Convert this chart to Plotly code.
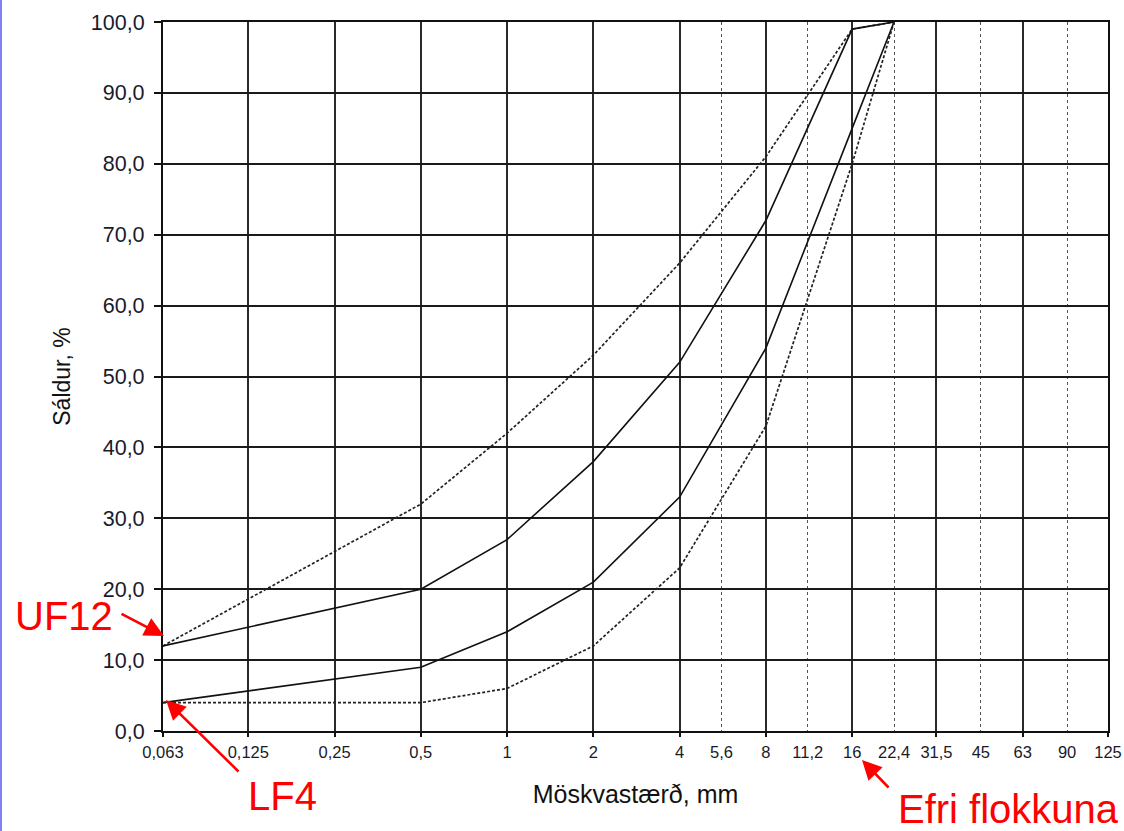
import math
import plotly.graph_objects as go

# ---- data ----
sieve_mm = [0.063, 0.5, 1, 2, 4, 8, 16, 22.4]
upper_limit = [12, 32, 42, 53, 66, 81, 99, 100]   # dotted envelope (upper)
uf12_curve = [12, 20, 27, 38, 52, 72, 99, 100]    # solid (upper)
lf4_curve = [4, 9, 14, 21, 33, 54, 85, 100]       # solid (lower)
lower_limit = [4, 4, 6, 12, 23, 43, 80, 100]      # dotted envelope (lower)

x_tick_vals = [0.063, 0.125, 0.25, 0.5, 1, 2, 4, 5.6, 8, 11.2, 16, 22.4, 31.5, 45, 63, 90, 125]
x_tick_text = ["0,063", "0,125", "0,25", "0,5", "1", "2", "4", "5,6", "8", "11,2", "16",
               "22,4", "31,5", "45", "63", "90", "125"]
x_major_vals = [0.063, 0.125, 0.25, 0.5, 1, 2, 4, 8, 16, 31.5, 63, 125]
x_minor_vals = [5.6, 11.2, 22.4, 45, 90]
y_tick_vals = [0, 10, 20, 30, 40, 50, 60, 70, 80, 90, 100]
y_tick_text = ["0,0", "10,0", "20,0", "30,0", "40,0", "50,0", "60,0", "70,0", "80,0", "90,0", "100,0"]

# ---- layout geometry ----
W, H = 1124, 831
ML, MR, MT, MB = 163, 16, 22, 100
PW, PH = W - ML - MR, H - MT - MB


def px(xp):
    return (xp - ML) / PW


def py(yp):
    return (H - MB - yp) / PH


FONT = "Arial, Liberation Sans, sans-serif"
xr = [math.log10(x_tick_vals[0]), math.log10(x_tick_vals[-1])]

fig = go.Figure()
solid = dict(color="#111111", width=1.6)
dotted = dict(color="#222222", width=1.7, dash="3px,2px")
for name, ys, ln in [("upper limit", upper_limit, dotted),
                     ("UF12", uf12_curve, solid),
                     ("LF4", lf4_curve, solid),
                     ("lower limit", lower_limit, dotted)]:
    fig.add_trace(go.Scatter(x=sieve_mm, y=ys, mode="lines", line=ln, name=name,
                             showlegend=False, hoverinfo="x+y"))

# dummy trace on the label axis so it is drawn
fig.add_trace(go.Scatter(x=x_tick_vals, y=[None] * len(x_tick_vals), xaxis="x2",
                         mode="lines", showlegend=False, hoverinfo="skip"))

fig.update_layout(
    width=W, height=H, autosize=False, showlegend=False,
    margin=dict(l=ML, r=MR, t=MT, b=MB, pad=0, autoexpand=False),
    paper_bgcolor="white", plot_bgcolor="white",
    font=dict(family=FONT, color="#111111"),
    xaxis=dict(
        type="log", range=xr, tickvals=x_major_vals, showticklabels=False,
        ticks="outside", ticklen=4, tickwidth=1.5, tickcolor="#111111",
        showgrid=True, gridcolor="#2a2a2a", gridwidth=1.6,
        minor=dict(tickvals=x_minor_vals, showgrid=True, gridcolor="#555555",
                   griddash="dot", gridwidth=1, ticks=""),
        showline=True, linecolor="#111111", linewidth=2.2, mirror=True,
        zeroline=False, automargin=False,
    ),
    xaxis2=dict(
        type="log", range=xr, overlaying="x", anchor="y", side="bottom",
        tickvals=x_tick_vals, ticktext=x_tick_text, ticks="", showgrid=False,
        showline=False, zeroline=False, ticklabelstandoff=9, automargin=False,
        tickfont=dict(size=16.5, color="#1a1a2a"),
        title=dict(text="Möskvastærð, mm", font=dict(size=25, color="#111111"), standoff=25),
    ),
    yaxis=dict(
        range=[0, 100], tickvals=y_tick_vals, ticktext=y_tick_text,
        ticks="outside", ticklen=7, tickwidth=1.5, tickcolor="#111111",
        showgrid=True, gridcolor="#1a1a1a", gridwidth=1.6,
        showline=True, linecolor="#111111", linewidth=2.2, mirror=True,
        zeroline=False, ticklabelstandoff=5, automargin=False,
        tickfont=dict(size=21.5, color="#1a1a2a"),
        title=dict(text="Sáldur, %", font=dict(size=23, color="#111111"), standoff=14),
    ),
)

red = "#ff0000"
ann_font = dict(family=FONT, size=40, color=red)
arrow = dict(showarrow=True, arrowhead=2, arrowsize=1.5, arrowwidth=2.6, arrowcolor=red,
             text="", xref="paper", yref="paper", axref="pixel", ayref="pixel")
fig.add_annotation(x=px(164), y=py(636), ax=-44, ay=-23, **arrow)
fig.add_annotation(x=px(166), y=py(700), ax=74, ay=73, **arrow)
fig.add_annotation(x=px(862), y=py(760), ax=28, ay=29, **arrow)
fig.add_annotation(text="UF12", x=px(64), y=py(616), xref="paper", yref="paper",
                   showarrow=False, xanchor="center", yanchor="middle", font=ann_font)
fig.add_annotation(text="LF4", x=px(282), y=py(796), xref="paper", yref="paper",
                   showarrow=False, xanchor="center", yanchor="middle", font=ann_font)
fig.add_annotation(text="Efri flokkuna", x=px(896), y=py(809), xref="paper", yref="paper",
                   showarrow=False, xanchor="left", yanchor="middle", font=ann_font)

# slide edge (thin blue line at the left border of the picture)
fig.add_shape(type="line", xref="paper", yref="paper", x0=px(1), x1=px(1),
              y0=py(H + 5), y1=py(-5), line=dict(color="#8080ee", width=2))

post = ("document.body.style.margin='0';document.body.style.overflow='hidden';"
        "var gd=document.getElementById('{plot_id}');"
        "Plotly.relayout(gd,{width:%d,height:%d});" % (W, H))
fig.write_html("out.html", config={"displayModeBar": False}, post_script=post)
